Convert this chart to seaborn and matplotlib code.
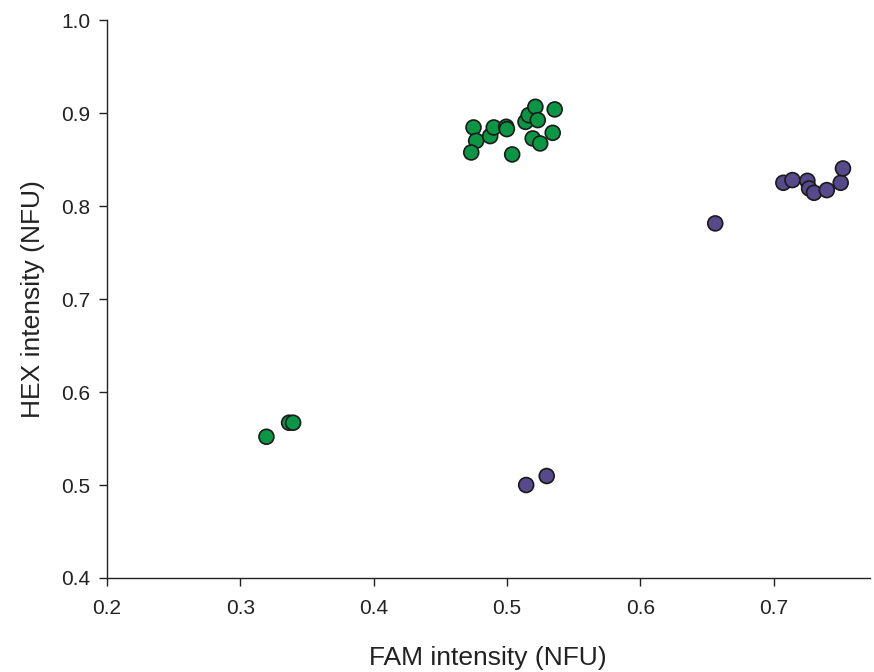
import pandas as pd
import matplotlib.pyplot as plt
import seaborn as sns

# ----------------------------------------
# Data (NFU)
# ----------------------------------------
green_fam = [0.4749, 0.4769, 0.4732, 0.4874, 0.4901, 0.4994, 0.4999, 0.5039,
             0.5139, 0.5163, 0.5213, 0.5231, 0.5193, 0.5249, 0.5343, 0.5358,
             0.3196, 0.3366, 0.3396]
green_hex = [0.8846, 0.8702, 0.8577, 0.8753, 0.8846, 0.8853, 0.8828, 0.8556,
             0.8906, 0.8978, 0.9068, 0.8925, 0.8728, 0.8674, 0.8788, 0.9040,
             0.5519, 0.5670, 0.5670]
purple_fam = [0.7073, 0.7141, 0.7253, 0.7266, 0.7303, 0.7399, 0.7503, 0.7520,
              0.6562, 0.5144, 0.5298]
purple_hex = [0.8251, 0.8280, 0.8272, 0.8190, 0.8143, 0.8172, 0.8251, 0.8405,
              0.7814, 0.5000, 0.5097]

df = pd.DataFrame({
    "FAM": green_fam + purple_fam,
    "HEX": green_hex + purple_hex,
    "group": ["green"] * len(green_fam) + ["purple"] * len(purple_fam),
})

sns.set_style("ticks")
plt.rcParams["font.family"] = ["Liberation Sans", "DejaVu Sans"]

fig = plt.figure(figsize=(8.74, 6.72), dpi=100)
ax = fig.add_axes([0.1224, 0.1399, 0.8726, 0.8301])

sns.scatterplot(data=df, x="FAM", y="HEX", hue="group",
                palette={"green": "#0b9645", "purple": "#574a8c"},
                s=115, edgecolor="#1a1a1a", linewidth=1.2, legend=False, ax=ax)

ax.set_xlim(0.2, 0.772)
ax.set_ylim(0.4, 1.0)
ax.set_xticks([0.2, 0.3, 0.4, 0.5, 0.6, 0.7])
ax.set_yticks([0.4, 0.5, 0.6, 0.7, 0.8, 0.9, 1.0])
ax.set_xticklabels(["0.2", "0.3", "0.4", "0.5", "0.6", "0.7"])
ax.set_yticklabels(["0.4", "0.5", "0.6", "0.7", "0.8", "0.9", "1.0"])
ax.tick_params(labelsize=15, length=6, width=1, colors="#222222")
ax.tick_params(axis="x", pad=9)
ax.tick_params(axis="y", pad=6)
ax.set_xlabel("FAM intensity (NFU)", fontsize=19, labelpad=20, color="#222222")
ax.set_ylabel("HEX intensity (NFU)", fontsize=19, labelpad=12, color="#222222")
for side in ["top", "right"]:
    ax.spines[side].set_visible(False)
for side in ["left", "bottom"]:
    ax.spines[side].set_color("#222222")
    ax.spines[side].set_linewidth(1)

fig.savefig("out.png", dpi=100)
plt.close()
